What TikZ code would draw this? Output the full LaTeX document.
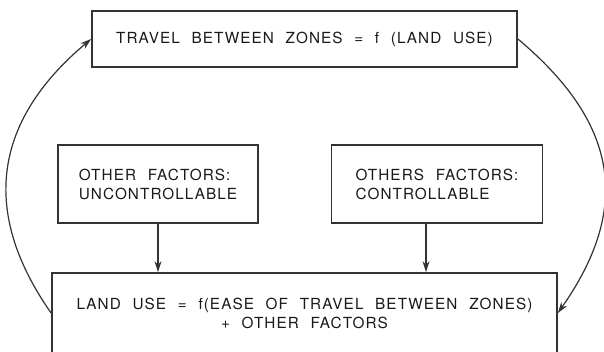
\documentclass[tikz,border=0pt]{standalone}
\usepackage{fontspec}
\setmainfont{TeX Gyre Heros}[LetterSpace=7,WordSpace=2.2]
\usetikzlibrary{arrows.meta,positioning}

\begin{document}
\begin{tikzpicture}[x=1pt, y=1pt, font=\fontsize{15.3}{19}\selectfont, text=black!90,
  box/.style={draw=black!80, line width=1.8pt, inner sep=0pt},
  link/.style={draw=black!80, line width=1.2pt, -{Stealth[length=11pt, width=7pt]}}]
  \useasboundingbox (0,0) rectangle (604,351);
  \clip (0,0) rectangle (604,351);
  \node[box, minimum width=505, minimum height=80, align=center] (landuse) at (304.5,38) {LAND USE = f(EASE OF TRAVEL BETWEEN ZONES)\\+ OTHER FACTORS};
  \node[box, minimum width=200, minimum height=78, align=left, inner xsep=21] (uncontrol) at (158,167) {OTHER FACTORS:\\UNCONTROLLABLE};
  \node[box, minimum width=206, minimum height=78, align=left, inner xsep=24] (control) at (437,167) {OTHERS FACTORS:\\CONTROLLABLE};
  \node[box, minimum width=425, minimum height=56] (travel) at (304.5,312) {TRAVEL BETWEEN ZONES = f (LAND USE)};
  \draw[link] (uncontrol) -- (uncontrol |- landuse.north);
  \draw[link] ([xshift=-11pt]control.south) -- ([xshift=-11pt]control.south |- landuse.north);
  % feedback loop round the outside
  \draw[link] (landuse.west) to[out=125, in=220, out distance=140, in distance=110] (travel.west);
  \draw[link] (travel.east) to[out=-40, in=55, out distance=130, in distance=130] (landuse.east);
\end{tikzpicture}
\end{document}
